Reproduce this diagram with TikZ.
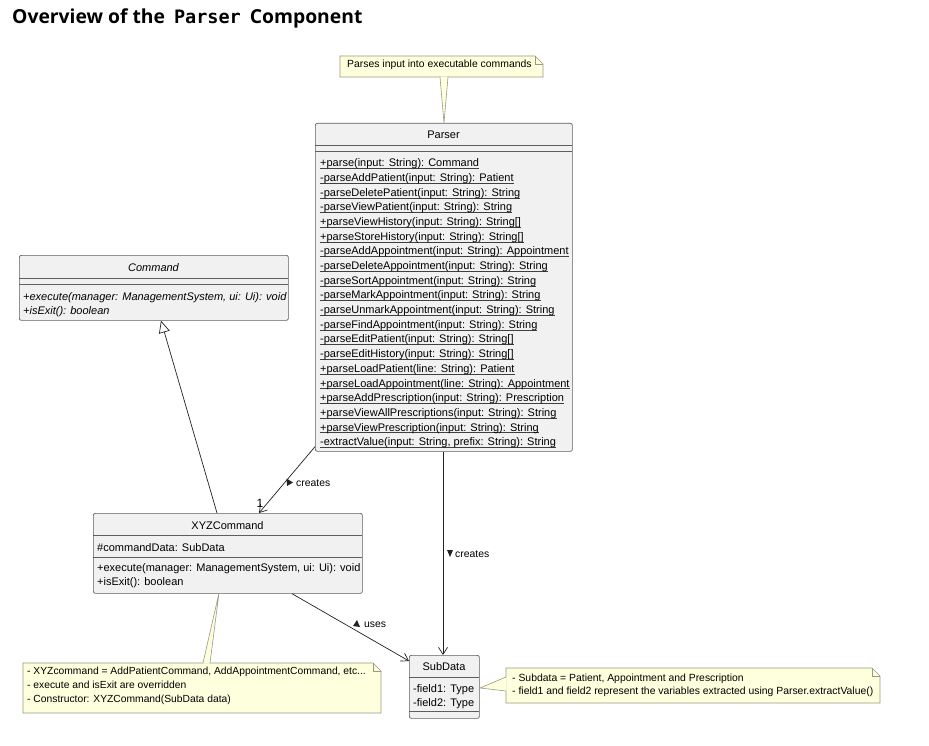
\documentclass[tikz,border=0pt]{standalone}
\usepackage{fontspec}
\setmainfont{Liberation Sans}
\newfontfamily\titlefont{Open Sans}
\newfontfamily\titlemono{DejaVu Sans Mono}
\usetikzlibrary{arrows.meta,calc}
\definecolor{clsfill}{HTML}{F1F1F1}
\definecolor{clsborder}{HTML}{5E5E5E}
\definecolor{notefill}{HTML}{FEFFDD}
\definecolor{noteborder}{HTML}{9A9A80}
\definecolor{linecol}{HTML}{222222}
\tikzset{
  cls/.style={draw=clsborder, fill=clsfill, rounded corners=2pt, line width=0.7pt, anchor=north west, inner sep=0pt},
  sepline/.style={draw=clsborder, line width=0.6pt},
  txt/.style={anchor=base west, inner sep=0pt, font=\fontsize{11}{13}\selectfont},
  ctxt/.style={anchor=base, inner sep=0pt, font=\fontsize{11}{13}\selectfont},
  notetxt/.style={anchor=north west, inner sep=0pt, align=left, font=\fontsize{10.3}{14.2}\selectfont},
  noteline/.style={draw=noteborder, fill=notefill, line width=0.6pt},
  conn/.style={draw=linecol, line width=0.7pt},
  vee/.style={-{Straight Barb[length=7pt,width=9pt,line width=0.7pt]}},
  lbl/.style={anchor=base west, inner sep=0pt, font=\fontsize{10.4}{12}\selectfont},
}
\newcommand{\ul}[1]{\setbox0\hbox{#1}\rlap{\raisebox{-1.9pt}{\color{black!75}\rule{\wd0}{0.55pt}}}\box0}
\begin{document}
\begin{tikzpicture}[x=1pt,y=-1pt]
\useasboundingbox (0,0) rectangle (929,746);
\fill[white] (0,0) rectangle (929,746);

% title
\node[anchor=base west, inner sep=0pt, font=\fontsize{19.3}{21}\selectfont\titlefont\bfseries] (title) at (12,24)
  {Overview of the \hspace{4pt}{\titlemono\bfseries\fontsize{18.5}{21}\selectfont Parser}\hspace{4pt} Component};

% ===== Parser class =====
\node[cls, minimum width=257pt, minimum height=328pt] (parser) at (315,123) {};
\path[sepline] (315,145) -- (572,145);
\path[sepline] (315,151) -- (572,151);
\node[ctxt] (parserhead) at (443.5,139) {Parser};
\foreach \m [count=\i from 0] in {
 {+parse(input: String): Command},
 {-parseAddPatient(input: String): Patient},
 {-parseDeletePatient(input: String): String},
 {-parseViewPatient(input: String): String},
 {+parseViewHistory(input: String): String[]},
 {+parseStoreHistory(input: String): String[]},
 {-parseAddAppointment(input: String): Appointment},
 {-parseDeleteAppointment(input: String): String},
 {-parseSortAppointment(input: String): String},
 {-parseMarkAppointment(input: String): String},
 {-parseUnmarkAppointment(input: String): String},
 {-parseFindAppointment(input: String): String},
 {-parseEditPatient(input: String): String[]},
 {-parseEditHistory(input: String): String[]},
 {+parseLoadPatient(line: String): Patient},
 {+parseLoadAppointment(line: String): Appointment},
 {+parseAddPrescription(input: String): Prescription},
 {+parseViewAllPrescriptions(input: String): String},
 {+parseViewPrescription(input: String): String},
 {-extractValue(input: String, prefix: String): String}}
 { \node[txt] (pm\i) at (320,{166.8+14.68*\i}) {\ul{\m}}; }

% ===== Command class =====
\node[cls, minimum width=269pt, minimum height=65pt] (command) at (19,255) {};
\path[sepline] (19,278) -- (288,278);
\path[sepline] (19,284) -- (288,284);
\node[ctxt] (commandhead) at (153.5,271) {\itshape Command};
\node[txt] (cm1) at (23,300) {\itshape +execute(manager: ManagementSystem, ui: Ui): void};
\node[txt] (cm2) at (23,314) {\itshape +isExit(): boolean};

% ===== XYZCommand class =====
\node[cls, minimum width=269pt, minimum height=80pt] (xyz) at (93,513) {};
\path[sepline] (93,535.5) -- (362,535.5);
\path[sepline] (93,557) -- (362,557);
\node[ctxt] (xyzhead) at (227.5,529) {XYZCommand};
\node[txt] (xf1) at (97,551) {\#commandData: SubData};
\node[txt] (xm1) at (97,571) {+execute(manager: ManagementSystem, ui: Ui): void};
\node[txt] (xm2) at (97,585) {+isExit(): boolean};

% ===== SubData class =====
\node[cls, minimum width=70pt, minimum height=63pt] (subdata) at (409,655) {};
\path[sepline] (409,677) -- (479,677);
\path[sepline] (409,711) -- (479,711);
\node[ctxt] (subhead) at (444,670) {SubData};
\node[txt] (sf1) at (413,692) {-field1: Type};
\node[txt] (sf2) at (413,706) {-field2: Type};

% ===== notes =====
% top note
\path[noteline] (340,56) -- (535,56) -- (543,64) -- (543,77) -- (340,77) -- cycle;
\path[draw=noteborder, line width=0.6pt] (535,56) -- (535,64) -- (543,64);
\fill[notefill] (440.3,76.6) -- (444,123) -- (447.7,76.6) -- cycle;
\path[draw=noteborder, line width=0.6pt] (440,77) -- (444,123) -- (448,77);
\node[notetxt, font=\fontsize{10.4}{14.2}\selectfont] (note1) at (347,60) {Parses input into executable commands};

% bottom-left note
\path[noteline] (23,663) -- (373,663) -- (381,671) -- (381,713) -- (23,713) -- cycle;
\path[draw=noteborder, line width=0.6pt] (373,663) -- (373,671) -- (381,671);
\fill[notefill] (203.3,663.6) -- (219,593) -- (209.7,663.6) -- cycle;
\path[draw=noteborder, line width=0.6pt] (203,663) -- (219,593) -- (210,663);
\node[notetxt] (note2) at (27,666.5) {- XYZcommand = AddPatientCommand, AddAppointmentCommand, etc...\\- execute and isExit are overridden\\- Constructor: XYZCommand(SubData data)};

% right note
\path[noteline] (506,668) -- (872,668) -- (880,676) -- (880,703) -- (506,703) -- cycle;
\path[draw=noteborder, line width=0.6pt] (872,668) -- (872,676) -- (880,676);
\fill[notefill] (506.6,677) -- (480,688) -- (506.6,691) -- cycle;
\path[draw=noteborder, line width=0.6pt] (506,677) -- (480,688) -- (506,691);
\node[notetxt, font=\fontsize{10.4}{12.6}\selectfont] (note3) at (512,674) {- Subdata = Patient, Appointment and Prescription\\- field1 and field2 represent the variables extracted using Parser.extractValue()};

% ===== connectors =====
\coordinate (pA) at ($(parser.south west)+(0,-5)$);
\coordinate (xA) at ($(xyz.north west)+(166,0)$);
\draw[conn, vee] (pA) -- (xA);
\node[anchor=base, inner sep=0pt, font=\fontsize{12}{12}\selectfont] (one) at (260,507) {1};
\fill[linecol] (286.5,478.5) -- (293,482.5) -- (287,486) -- cycle;
\node[lbl] (creates1) at (296,486.5) {creates};

\coordinate (xB) at ($(xyz.north west)+(124,0)$);
\coordinate (cB) at ($(command.south west)+(142,0)$);
\draw[conn, -{Triangle[open,length=12pt,width=11pt,line width=0.7pt]}] (xB) -- (cB);

\coordinate (pC) at ($(parser.south west)+(128,0)$);
\coordinate (sC) at ($(subdata.north west)+(34,0)$);
\draw[conn, vee] (pC) -- (sC);
\fill[linecol] (447,550) -- (453,550) -- (450,557) -- cycle;
\node[lbl] (creates2) at (455,557.5) {creates};

\coordinate (xD) at ($(xyz.south west)+(199,0)$);
\coordinate (sD) at ($(subdata.north west)+(0,6)$);
\draw[conn, vee] (xD) -- (sD);
\fill[linecol] (353,626) -- (357,620) -- (360,627) -- cycle;
\node[lbl] (uses) at (364,627.5) {uses};
\end{tikzpicture}
\end{document}
